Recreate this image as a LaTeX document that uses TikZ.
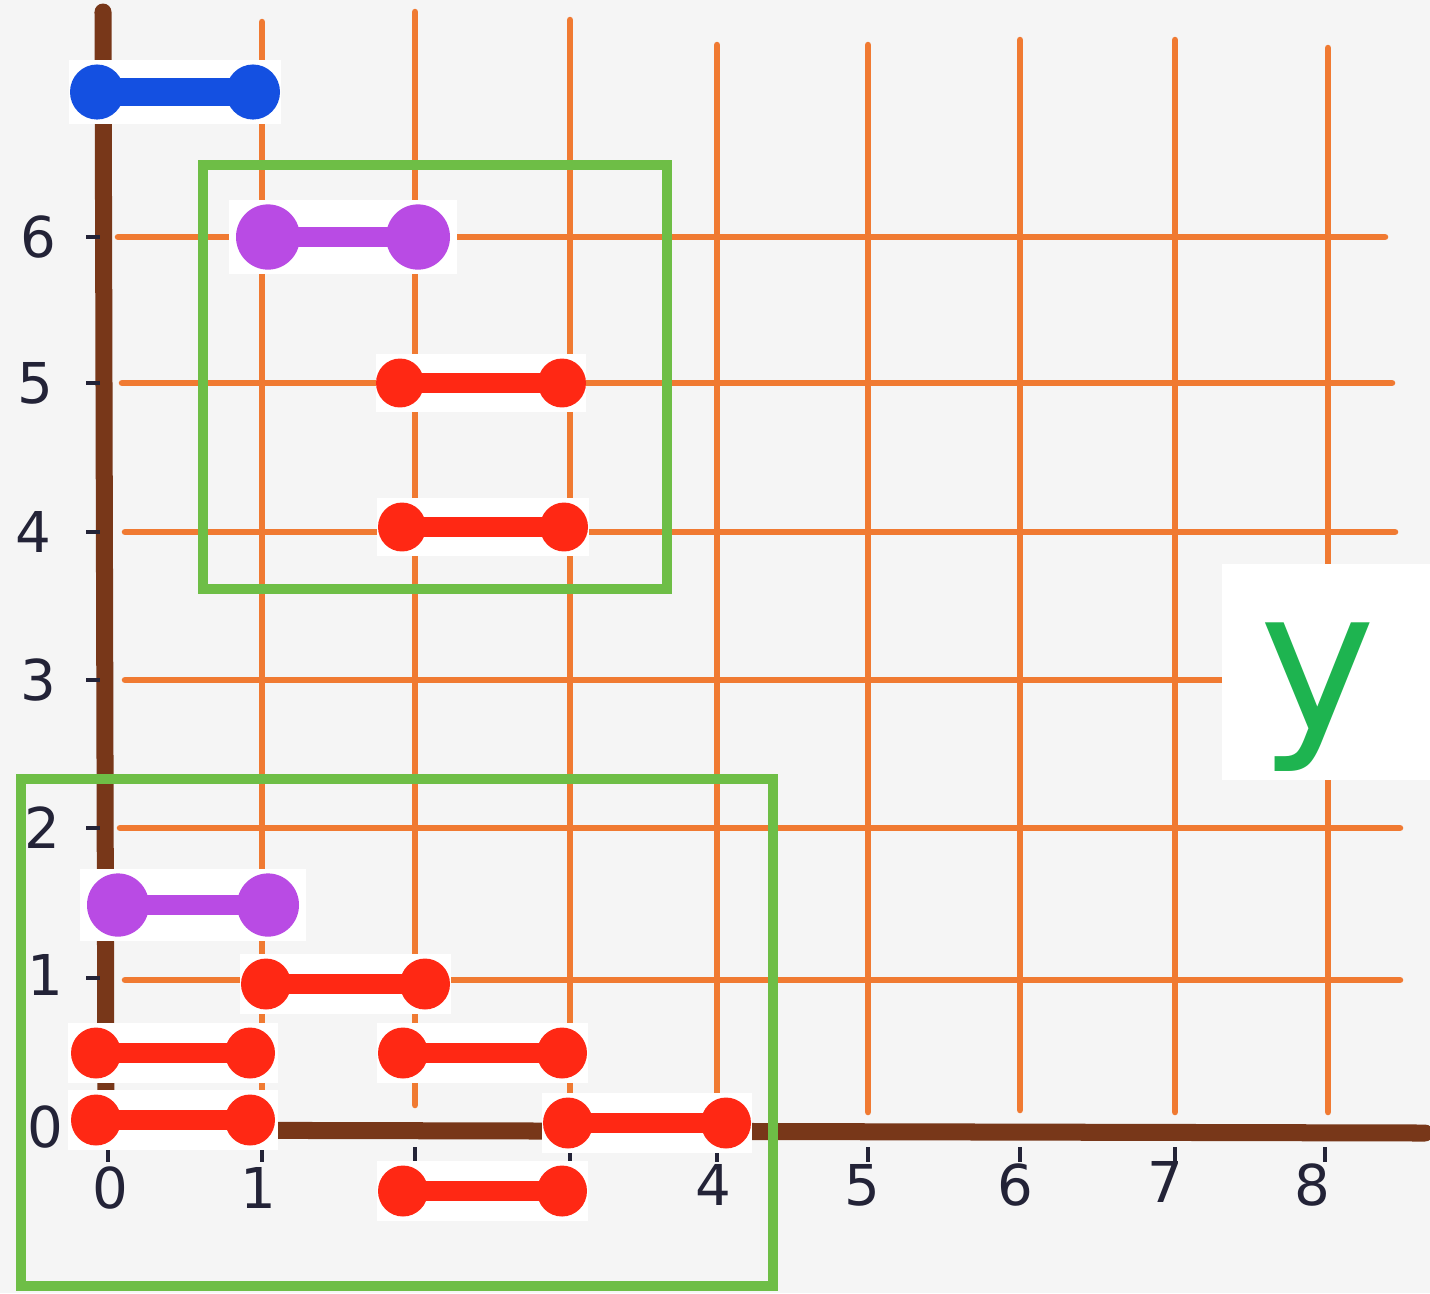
\documentclass[tikz,border=0pt]{standalone}
\usepackage{fontspec}
\setmainfont{DejaVu Sans}
\definecolor{paper}{RGB}{245,245,245}
\definecolor{gridorange}{RGB}{240,122,50}
\definecolor{axisbrown}{RGB}{120,55,25}
\definecolor{ink}{RGB}{35,35,55}
\definecolor{boxgreen}{RGB}{110,190,70}
\definecolor{ygreen}{RGB}{30,180,80}
\definecolor{dbred}{RGB}{255,40,20}
\definecolor{dbpurple}{RGB}{185,75,228}
\definecolor{dbblue}{RGB}{20,80,225}
\begin{document}
\begin{tikzpicture}[x=0.01cm,y=-0.01cm,
 gridline/.style={gridorange, line width=0.065cm, line cap=round},
 axisline/.style={axisbrown, line width=0.17cm, line cap=round},
 tickmark/.style={ink, line width=0.035cm},
 numlabel/.style={ink, font=\fontsize{16}{16}\selectfont, inner sep=0pt},
 frame/.style={boxgreen, line width=0.10cm},
 bgbox/.style={fill=white, draw=none, inner sep=0pt},
]
\fill[paper] (0,0) rectangle (1430,1293);
\useasboundingbox (0,0) rectangle (1430,1293);

% orange grid
\foreach \x/\t/\b in {262/22/1090, 415/12/1105, 570/20/1110, 717/45/1110, 868/45/1112, 1020/40/1110, 1175/40/1112, 1328/48/1112}
  \draw[gridline] (\x,\t) -- (\x,\b);
\foreach \y/\l/\r in {237/118/1385, 383/122/1392, 532/125/1395, 680/125/1390, 828/120/1400, 980/125/1400}
  \draw[gridline] (\l,\y) -- (\r,\y);

% axes
\draw[axisline] (103,12) -- (106,1130);
\draw[axisline] (100,1130) -- (1425,1133);

% ticks
\foreach \y in {237,383,532,680,828,978,1125}
  \draw[tickmark] (86,\y) -- (100,\y);
\foreach \x in {108,262,415,570,717,868,1020,1175,1325}
  \draw[tickmark] (\x,1147) -- (\x,1162);

% y labels
\node[numlabel] (ly6) at (38,237) {6};
\node[numlabel] (ly5) at (35,383) {5};
\node[numlabel] (ly4) at (33,532) {4};
\node[numlabel] (ly3) at (38,680) {3};
\node[numlabel] (ly2) at (42,828) {2};
\node[numlabel] (ly1) at (45,975) {1};
\node[numlabel] (ly0) at (45,1127) {0};
% x labels
\node[numlabel] (lx0) at (110,1188) {0};
\node[numlabel] (lx1) at (258,1188) {1};
\node[numlabel] (lx4) at (713,1185) {4};
\node[numlabel] (lx5) at (862,1185) {5};
\node[numlabel] (lx6) at (1015,1185) {6};
\node[numlabel] (lx7) at (1165,1182) {7};
\node[numlabel] (lx8) at (1312,1185) {8};

% green frames
\draw[frame] (203,165) rectangle (667,589);
\draw[frame] (21,779) rectangle (773,1286);

% y label
\node[bgbox, minimum width=2.08cm, minimum height=2.15cm] (ybox) at (1326,672) {};
\node[ygreen, font=\fontsize{56}{56}\selectfont, inner sep=0pt, anchor=base] (ylab) at (1318,730) {y};

% dumbbells
\newcommand{\dumbbell}[8]{% name, xl, xr, y, r, bar, colour, bg width
  \node[bgbox, minimum width=#8, minimum height=2.05*#5*0.01cm+0.08cm] (#1) at ({(#2+#3)/2},#4) {};
  \draw[#7, line width=#6*0.01cm] (#2,#4) -- (#3,#4);
  \fill[#7] (#2,#4) ellipse[x radius=#5, y radius=#5*1.02];
  \fill[#7] (#3,#4) ellipse[x radius=#5, y radius=#5*1.02];
}
\dumbbell{dbBlue}{97}{253}{92}{27}{28}{dbblue}{2.11cm}
\dumbbell{dbPurpleTop}{268}{418}{237}{32}{20}{dbpurple}{2.27cm}
\dumbbell{dbPurpleLow}{118}{268}{905}{31}{20}{dbpurple}{2.26cm}
\dumbbell{dbR5}{400}{562}{383}{24}{20}{dbred}{2.10cm}
\dumbbell{dbR4}{402}{564}{527}{24}{20}{dbred}{2.11cm}
\dumbbell{dbR1}{266}{425}{984}{25}{20}{dbred}{2.10cm}
\dumbbell{dbRa}{96}{250}{1053}{25}{20}{dbred}{2.10cm}
\dumbbell{dbRb}{403}{562}{1053}{25}{20}{dbred}{2.10cm}
\dumbbell{dbR0}{96}{250}{1120}{25}{20}{dbred}{2.10cm}
\dumbbell{dbRc}{568}{726}{1123}{25}{20}{dbred}{2.10cm}
\dumbbell{dbRd}{403}{562}{1191}{25}{20}{dbred}{2.10cm}
\end{tikzpicture}
\end{document}
